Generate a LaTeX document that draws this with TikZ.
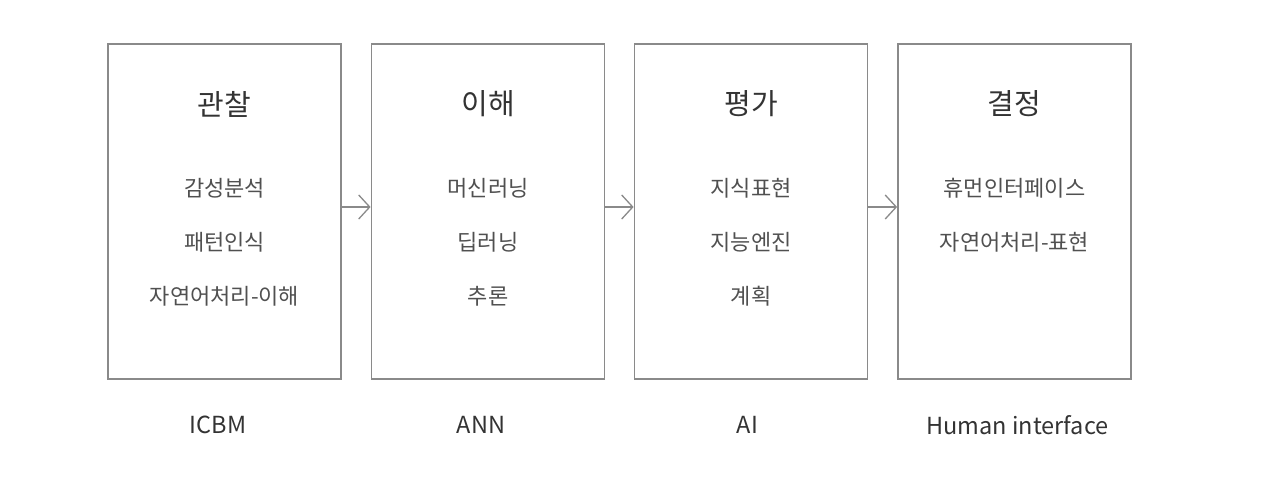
\documentclass[tikz,border=0pt]{standalone}
\usepackage{fontspec}
\setmainfont{Noto Sans CJK KR}
\usetikzlibrary{arrows.meta}

\definecolor{boxgray}{HTML}{8A8A8A}
\definecolor{titletext}{HTML}{333333}
\definecolor{itemtext}{HTML}{505050}

\tikzset{
  stagebox/.style={draw=boxgray, line width=1.8pt, minimum width=233pt, minimum height=335pt, inner sep=0pt},
  title/.style={text=titletext, font=\fontsize{29}{33}\selectfont},
  item/.style={text=itemtext, font=\fontsize{22}{26}\selectfont},
  caption/.style={text=titletext, font=\fontsize{23.5}{28}\selectfont},
  flow/.style={draw=boxgray, line width=1.3pt, -{Straight Barb[length=11pt,width=24pt,line width=1.3pt]}}
}

\begin{document}
\begin{tikzpicture}[x=1pt, y=-1pt]
    \useasboundingbox (0,0) rectangle (1280,478);

    % The four stages
    \node[stagebox] (obs) at (224.5,211.5) {};
    \node[stagebox] (und) at (488,211.5) {};
    \node[stagebox] (eva) at (751,211.5) {};
    \node[stagebox] (dec) at (1014.5,211.5) {};

    % Stage titles
    \node[title] (obsT) at (224.5,104) {관찰};
    \node[title] (undT) at (488,104) {이해};
    \node[title] (evaT) at (751,104) {평가};
    \node[title] (decT) at (1014.5,104) {결정};

    % Items inside the boxes
    \node[item] (obsA) at (224.5,188) {감성분석};
    \node[item] (obsB) at (224.5,242) {패턴인식};
    \node[item] (obsC) at (224.5,296) {자연어처리-이해};
    \node[item] (undA) at (488,188) {머신러닝};
    \node[item] (undB) at (488,242) {딥러닝};
    \node[item] (undC) at (488,296) {추론};
    \node[item] (evaA) at (751,188) {지식표현};
    \node[item] (evaB) at (751,242) {지능엔진};
    \node[item] (evaC) at (751,296) {계획};
    \node[item] (decA) at (1014.5,188) {휴먼인터페이스};
    \node[item] (decB) at (1014.5,242) {자연어처리-표현};

    % Captions under the boxes
    \node[caption] (obsL) at (218,425) {ICBM};
    \node[caption] (undL) at (481,425) {ANN};
    \node[caption] (evaL) at (747.5,425) {AI};
    \node[caption] (decL) at (1017.5,425) {Human interface};

    % Arrows between the stages
    \draw[flow] (obs.east |- 0,207) -- (und.west |- 0,207);
    \draw[flow] (und.east |- 0,207) -- (eva.west |- 0,207);
    \draw[flow] (eva.east |- 0,207) -- (dec.west |- 0,207);

\end{tikzpicture}
\end{document}
